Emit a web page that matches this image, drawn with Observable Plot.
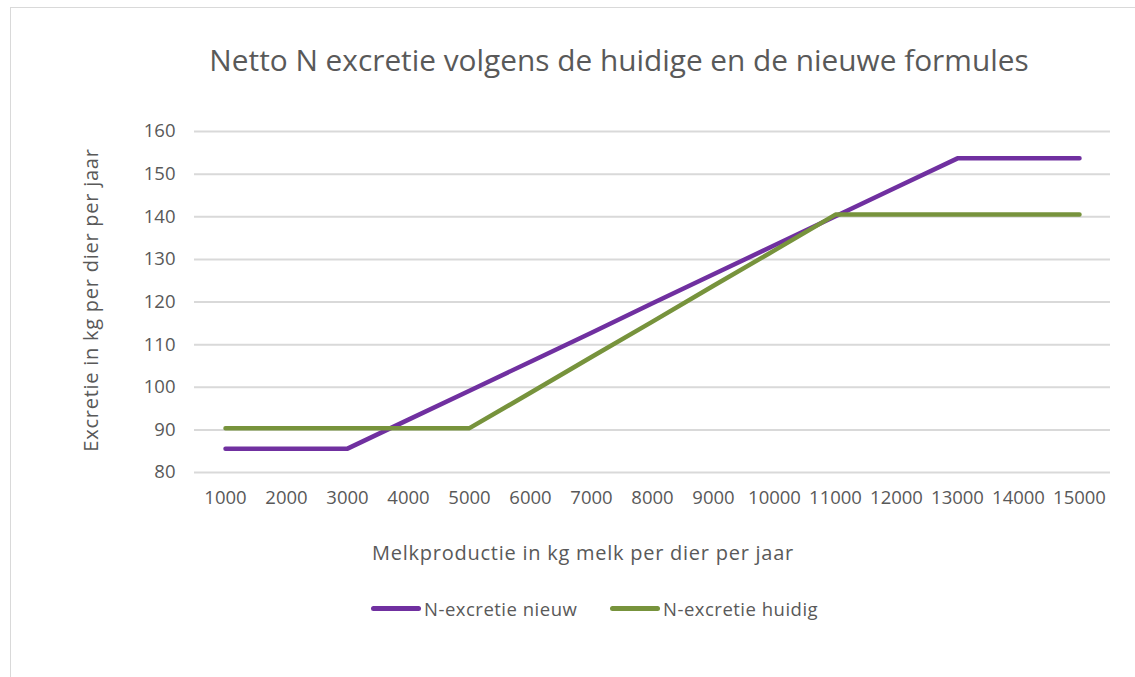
<!DOCTYPE html>
<html><head><meta charset="utf-8">
<script src="https://cdn.jsdelivr.net/npm/d3@7"></script>
<script src="https://cdn.jsdelivr.net/npm/@observablehq/plot@0.6"></script>
<style>
body{margin:0;background:#fff;font-family:"Open Sans",sans-serif;color:#595959;}
#wrap{position:relative;width:1135px;height:677px;overflow:hidden;}
#frame{position:absolute;left:10px;top:7px;width:1200px;height:700px;border:1.5px solid #d9d9d9;}
#title{position:absolute;left:0;width:1238px;top:39px;text-align:center;font-size:29.8px;}
#ylab{position:absolute;left:90px;top:300px;transform:translate(-50%,-50%) rotate(-90deg);white-space:nowrap;font-size:20px;letter-spacing:0.75px;}
#xlab{position:absolute;left:583px;top:552px;transform:translate(-50%,-50%);white-space:nowrap;font-size:20px;letter-spacing:0.75px;}
#chart{position:absolute;left:0;top:110px;}
#legend{position:absolute;top:596px;left:0;width:1135px;font-size:18.5px;letter-spacing:0.5px;}
.item{position:absolute;display:flex;align-items:center;white-space:nowrap;}
.sw{width:50px;height:5px;border-radius:3px;margin-right:3px;}
</style></head>
<body><div id="wrap">
<div id="frame"></div>
<div id="title">Netto N excretie volgens de huidige en de nieuwe formules</div>
<div id="ylab">Excretie in kg per dier per jaar</div>
<div id="chart"></div>
<div id="xlab">Melkproductie in kg melk per dier per jaar</div>
<div id="legend"></div>
</div>
<script>
const categories = ["1000","2000","3000","4000","5000","6000","7000","8000","9000","10000","11000","12000","13000","14000","15000"];
const nieuw = [85.6,85.6,85.6,92.4,99.2,106.0,112.8,119.7,126.5,133.3,140.1,146.9,153.7,153.7,153.7];
const huidig = [90.4,90.4,90.4,90.4,90.4,98.7,107.1,115.4,123.8,132.1,140.5,140.5,140.5,140.5,140.5];
const seriesNames = ["N-excretie nieuw","N-excretie huidig"];
const seriesColors = ["#7030A0","#77933C"];
const yTicks = [80,90,100,110,120,130,140,150,160];

const rows = [];
categories.forEach((c,i)=>{
  rows.push({x:c, y:nieuw[i], s:seriesNames[0]});
  rows.push({x:c, y:huidig[i], s:seriesNames[1]});
});

const plot = Plot.plot({
  width:1135, height:420,
  marginTop:21, marginBottom:58, marginLeft:194, marginRight:25,
  style:{fontFamily:'"Open Sans",sans-serif', fontSize:"18.5px", color:"#595959", background:"transparent"},
  x:{type:"point", domain:categories, padding:0.5, label:null, tickSize:0, tickPadding:18},
  y:{domain:[80,160], ticks:yTicks, label:null, tickSize:0, tickPadding:19},
  color:{domain:seriesNames, range:seriesColors},
  marks:[
    Plot.gridY(yTicks,{stroke:"#d9d9d9", strokeOpacity:1, strokeWidth:2}),
    Plot.axisX({tickSize:0, tickPadding:18, fontSize:18.5}),
    Plot.axisY({ticks:yTicks, tickSize:0, tickPadding:19, fontSize:18.5}),
    Plot.line(rows,{x:"x", y:"y", z:"s", stroke:"s", strokeWidth:4.5, strokeLinecap:"round", strokeLinejoin:"round"})
  ]
});
document.getElementById("chart").appendChild(plot);

const leg = document.getElementById("legend");
const lx = [371, 610];
seriesNames.forEach((n,i)=>{
  const d = document.createElement("div");
  d.className="item"; d.style.left = lx[i]+"px";
  d.innerHTML = `<div class="sw" style="background:${seriesColors[i]}"></div><span>${n}</span>`;
  leg.appendChild(d);
});
</script>
</body></html>
